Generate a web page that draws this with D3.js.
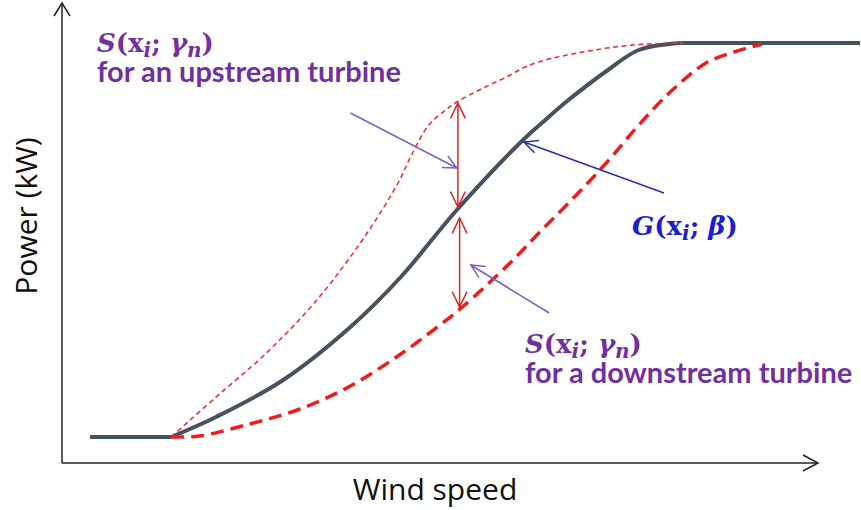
<!DOCTYPE html>
<html>
<head>
<meta charset="utf-8">
<script src="https://cdn.jsdelivr.net/npm/d3@7"></script>
<style>
  body { margin: 0; background: #fff; }
</style>
</head>
<body>
<div id="chart"></div>
<script>
// values: wind speed (m/s) and power (kW)
const gWind = [1.0, 3.9, 5.5, 7.9, 10.3, 12.1, 14.1, 16.5, 17.3, 18.0, 19.5, 20.6, 22.1, 28.5];
const gPower = [130, 130, 230, 415, 680, 930, 1265, 1620, 1720, 1805, 1965, 2065, 2100, 2100];

const upWind = [3.9, 5.5, 7.3, 9.1, 10.8, 12.0, 12.5, 13.1, 13.7, 14.1, 14.9, 15.8, 16.8, 18.6, 20.4, 22.2];
const upPower = [130, 330, 550, 815, 1130, 1400, 1545, 1690, 1765, 1805, 1865, 1925, 1995, 2055, 2090, 2100];

const downWind = [3.9, 4.9, 6.7, 8.5, 10.3, 12.1, 13.5, 14.3, 16.0, 17.1, 18.3, 19.5, 20.6, 21.8, 23.0, 24.0, 25.0];
const downPower = [130, 135, 195, 270, 385, 545, 690, 780, 1000, 1160, 1330, 1510, 1690, 1865, 2000, 2055, 2095];

const xMax = 27;
const yMax = 2300;
const xLabel = 'Wind speed';
const yLabel = 'Power (kW)';

// annotation arrows, in data units: [wind1, power1, wind2, power2]
const upArrow = [10.3, 1750, 14.1, 1475];
const gArrow = [21.5, 1350, 16.5, 1605];
const downArrow = [17.4, 750, 14.6, 990];
const gapUp = [14.14, 1800, 14.14, 1280];
const gapDown = [14.2, 1225, 14.2, 780];

const width = 861, height = 510;
const margin = { top: 3, right: 43, bottom: 47, left: 62 };

const svg = d3.select('#chart').append('svg')
    .attr('width', width)
    .attr('height', height);

const x = d3.scaleLinear().domain([0, xMax]).range([margin.left, width - margin.right]);
const y = d3.scaleLinear().domain([0, yMax]).range([height - margin.bottom, margin.top]);

const zip = (a, b) => a.map((v, i) => [v, b[i]]);

const line = d3.line()
    .x(d => x(d[0]))
    .y(d => y(d[1]))
    .curve(d3.curveCatmullRom.alpha(0.5));
const straight = d3.line().x(d => x(d[0])).y(d => y(d[1]));

// arrow with open chevron head(s)
function arrow(a, color, both, headLen) {
    const x1 = x(a[0]), y1 = y(a[1]), x2 = x(a[2]), y2 = y(a[3]);
    const g = svg.append('g')
        .attr('stroke', color)
        .attr('stroke-width', 1.5)
        .attr('fill', 'none');
    g.append('line').attr('x1', x1).attr('y1', y1).attr('x2', x2).attr('y2', y2);
    const head = (tx, ty, fx, fy) => {
        const ang = Math.atan2(ty - fy, tx - fx);
        const w = 0.45;
        const p = [
            [tx - headLen * Math.cos(ang - w), ty - headLen * Math.sin(ang - w)],
            [tx, ty],
            [tx - headLen * Math.cos(ang + w), ty - headLen * Math.sin(ang + w)]
        ];
        g.append('path').attr('d', 'M' + p.join('L'));
    };
    head(x2, y2, x1, y1);
    if (both) head(x1, y1, x2, y2);
}

// axes with open arrow tips
const axis = svg.append('g')
    .attr('stroke', '#222')
    .attr('stroke-width', 1.5)
    .attr('fill', 'none');
axis.append('path').attr('d', straight([[0, 0], [xMax, 0]]));
axis.append('path').attr('d', straight([[0, 0], [0, yMax]]));
axis.append('path').attr('d', `M${x(xMax) - 15},${y(0) - 8}L${x(xMax)},${y(0)}L${x(xMax) - 15},${y(0) + 8}`);
axis.append('path').attr('d', `M${x(0) - 8},${y(yMax) + 13}L${x(0)},${y(yMax)}L${x(0) + 8},${y(yMax) + 13}`);

// curves: G has a straight run below cut-in and a straight run at rated power
const gData = zip(gWind, gPower);
const nG = gData.length;
svg.append('path')
    .attr('d', straight(gData.slice(0, 2)) + straight(gData.slice(nG - 2)))
    .attr('fill', 'none')
    .attr('stroke', '#46535f')
    .attr('stroke-width', 4);
svg.append('path')
    .attr('d', line(gData.slice(1, nG - 1)))
    .attr('fill', 'none')
    .attr('stroke', '#46535f')
    .attr('stroke-width', 4);

svg.append('path')
    .attr('d', line(zip(upWind, upPower)))
    .attr('fill', 'none')
    .attr('stroke', '#ee2a2a')
    .attr('stroke-width', 1.5)
    .attr('stroke-dasharray', '5,3.5');

svg.append('path')
    .attr('d', line(zip(downWind, downPower)))
    .attr('fill', 'none')
    .attr('stroke', '#f01c1c')
    .attr('stroke-width', 3.5)
    .attr('stroke-dasharray', '13,7');

// annotation arrows
arrow(gapUp, '#d42828', true, 17);
arrow(gapDown, '#d42828', true, 17);
arrow(upArrow, '#7f5fbf', false, 15);
arrow(downArrow, '#7f5fbf', false, 15);
arrow(gArrow, '#2a2ab8', false, 15);

// math labels
function mathLabel(px, py, color, parts) {
    const t = svg.append('text')
        .attr('x', px)
        .attr('y', py)
        .attr('fill', color)
        .style('font-family', '"DejaVu Serif", "Liberation Serif", serif')
        .style('font-weight', 'bold')
        .style('font-size', '26px');
    let shift = 0;
    parts.forEach(([s, italic, sub]) => {
        const sp = t.append('tspan').text(s);
        if (italic) sp.style('font-style', 'italic');
        if (sub) sp.style('font-size', '20px');
        const want = sub ? 5 : 0;
        if (want !== shift) sp.attr('dy', want - shift);
        shift = want;
    });
}
const sParts = [['S', true], ['(', false], ['x', false], ['i', true, true], ['; ', false], ['γ', true], ['n', true, true], [')', false]];
const gParts = [['G', true], ['(', false], ['x', false], ['i', true, true], ['; ', false], ['β', true], [')', false]];

mathLabel(97, 52, '#7030a0', sParts);
mathLabel(525, 353, '#7030a0', sParts);
mathLabel(632, 235, '#1c1cd0', gParts);

const desc = (px, py, s) => svg.append('text')
    .attr('x', px)
    .attr('y', py)
    .attr('fill', '#7030a0')
    .style('font-family', 'Lato, "Open Sans", sans-serif')
    .style('font-weight', 'bold')
    .style('font-size', '29px')
    .text(s);
desc(97, 82, 'for an upstream turbine');
desc(525, 383, 'for a downstream turbine');

// axis titles
svg.append('text')
    .attr('x', 435)
    .attr('y', 500)
    .attr('text-anchor', 'middle')
    .style('font-family', '"Open Sans", sans-serif')
    .style('font-size', '30px')
    .attr('fill', '#111')
    .text(xLabel);

svg.append('text')
    .attr('transform', 'translate(37,216) rotate(-90)')
    .attr('text-anchor', 'middle')
    .style('font-family', '"Open Sans", sans-serif')
    .style('font-size', '30px')
    .attr('fill', '#111')
    .text(yLabel);
</script>
</body>
</html>
